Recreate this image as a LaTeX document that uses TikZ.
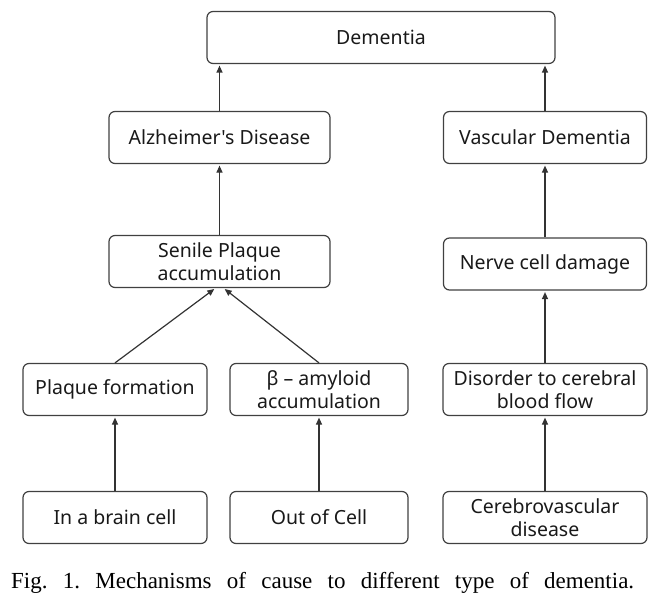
\documentclass[tikz,border=0pt]{standalone}
\usepackage{fontspec}
\setmainfont{Liberation Serif}
\newfontfamily\boxfont{Noto Sans}
\usetikzlibrary{arrows.meta}
\begin{document}
\begin{tikzpicture}[x=1pt,y=-1pt,
 box/.style={draw=black!75, line width=1.2pt, rounded corners=6pt, align=center,
   font=\boxfont\fontsize{19.5}{23}\selectfont, inner sep=0pt, text=black!90,
   minimum height=52pt},
 arr/.style={draw=black!80, line width=1.2pt, -{Triangle[length=7pt,width=6pt]}, shorten >=1.5pt}]
\useasboundingbox (0,0) rectangle (661,599);
\node[box, minimum width=348pt] (dem) at (381,37.5) {Dementia};
\node[box, minimum width=221pt] (alz) at (219.5,137.5) {Alzheimer's Disease};
\node[box, minimum width=203pt] (vas) at (545,137.5) {Vascular Dementia};
\node[box, minimum width=221pt] (sen) at (219.5,261.5) {Senile Plaque\\accumulation};
\node[box, minimum width=203pt] (ner) at (545,264) {Nerve cell damage};
\node[box, minimum width=184pt] (pla) at (115,389.5) {Plaque formation};
\node[box, minimum width=178pt] (amy) at (319,389.5) {β – amyloid\\accumulation};
\node[box, minimum width=204pt] (dis) at (545,389.5) {Disorder to cerebral\\blood flow};
\node[box, minimum width=184pt] (bra) at (115,517.5) {In a brain cell};
\node[box, minimum width=178pt] (out) at (319,517.5) {Out of Cell};
\node[box, minimum width=204pt] (cer) at (545,517.5) {Cerebrovascular\\disease};
\coordinate (senL) at ([xshift=-4pt]sen.south);
\coordinate (senR) at ([xshift=4pt]sen.south);
\draw[arr] (alz.north) -- (alz.north |- dem.south);
\draw[arr] (vas.north) -- (vas.north |- dem.south);
\draw[arr] (sen.north) -- (alz.south);
\draw[arr] (ner.north) -- (vas.south);
\draw[arr] (pla.north) -- (senL);
\draw[arr] (amy.north) -- (senR);
\draw[arr] (dis.north) -- (ner.south);
\draw[arr] (bra.north) -- (pla.south);
\draw[arr] (out.north) -- (amy.south);
\draw[arr] (cer.north) -- (dis.south);
\node[anchor=base west, inner sep=0pt, font=\fontsize{23}{27}\selectfont] (cap) at (11,588)
  {\frenchspacing\makebox[623pt][s]{Fig. 1. Mechanisms of cause to different type of dementia.}};
\end{tikzpicture}
\end{document}
